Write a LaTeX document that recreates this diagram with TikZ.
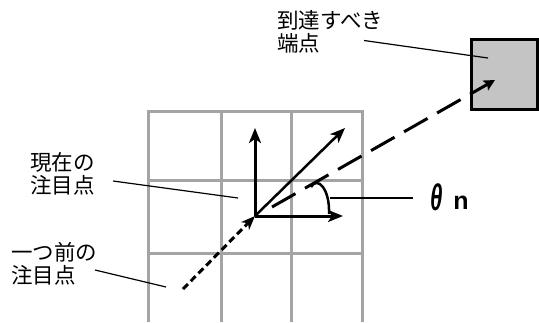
\documentclass[tikz,border=0pt]{standalone}
\usepackage{fontspec}
\newfontfamily\jpfont{Noto Sans CJK JP}
\newfontfamily\nfont{Liberation Sans}
\usetikzlibrary{arrows.meta}
\definecolor{gridgray}{HTML}{A4A4A4}
\definecolor{boxgray}{HTML}{C4C4C4}
\tikzset{
  gridline/.style={draw=gridgray, line width=3pt},
  vec/.style={draw=black, line width=3pt, -{Stealth[length=15pt,width=12pt,inset=4pt]}},
  dashvec/.style={draw=black, line width=3pt, dash pattern=on 27pt off 11pt, -{Stealth[length=11pt,width=11pt,inset=2pt]}},
  dotvec/.style={draw=black, line width=3pt, dash pattern=on 7pt off 4pt, -{Stealth[length=14pt,width=11pt,inset=4pt]}},
  leader/.style={draw=black, line width=1.2pt},
  jplabel/.style={font=\jpfont\fontsize{21.5}{23}\selectfont, align=left, inner sep=0pt, anchor=west},
  targetbox/.style={draw=black, line width=3pt, fill=boxgray, minimum width=66pt, minimum height=70pt, inner sep=0pt}
}
\begin{document}
\begin{tikzpicture}[x=1pt,y=-1pt]
\useasboundingbox (0,0) rectangle (539,322);
% grid
\foreach \gx in {148,221,291,362} \draw[gridline] (\gx,111) -- (\gx,322);
\foreach \gy in {111,180,253} \draw[gridline] (146.5,\gy) -- (363.5,\gy);
% points
\coordinate (O) at (255,216);
\coordinate (U) at (255,128);
\coordinate (R) at (343,216);
\coordinate (D) at (345,128);
\coordinate (P) at (183,289);
\coordinate (S) at (272,207);
\coordinate (T) at (495,80);
% target box
\node[targetbox] (box) at (504,74) {};
% vectors
\draw[vec] (O) -- (U);
\draw[vec] (O) -- (R);
\draw[vec, line width=2.5pt] (O) -- (D);
\draw[dotvec] (P) -- (O);
\draw[dashvec] (S) -- (T);
% angle arc
\coordinate (A1) at (311,187);
\coordinate (A2) at (329,214);
\draw[black, line width=2.5pt] (A1) .. controls (317,176) and (330,188) .. (A2);
% labels
\node[jplabel] (lblT) at (277,32) {到達すべき\\端点};
\node[jplabel] (lblC) at (30,174) {現在の\\注目点};
\node[jplabel] (lblP) at (11,264) {一つ前の\\注目点};
\node[inner sep=0pt, font=\nfont\bfseries\itshape\fontsize{37}{37}\selectfont] (th) at (437,197) {\scalebox{0.6}[1]{θ}};
\node[inner sep=0pt, font=\nfont\bfseries\fontsize{25}{25}\selectfont, anchor=base] (nn) at (461,209) {n};
% leaders
\coordinate (L1a) at (364,40.5); \coordinate (L1b) at (488,58);
\coordinate (L2a) at (113,181); \coordinate (L2b) at (238,198);
\coordinate (L3a) at (95,270); \coordinate (L3b) at (166,287);
\coordinate (L4a) at (330,198); \coordinate (L4b) at (413,198);
\draw[leader] (L1a) -- (L1b);
\draw[leader] (L2a) -- (L2b);
\draw[leader] (L3a) -- (L3b);
\draw[leader] (L4a) -- (L4b);
\end{tikzpicture}
\end{document}
